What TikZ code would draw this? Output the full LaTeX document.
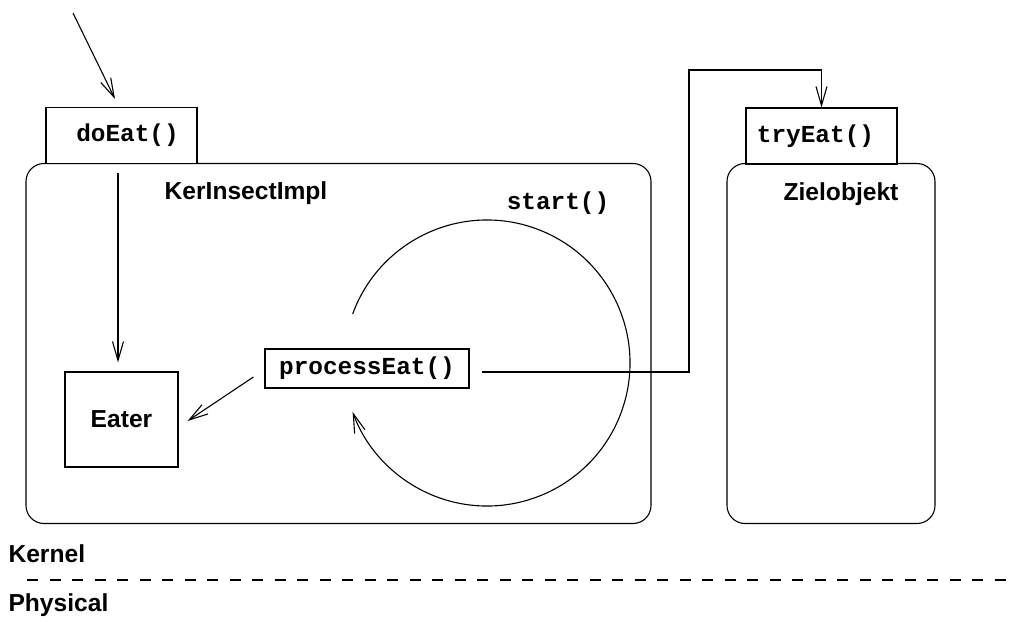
\documentclass[tikz,border=0pt]{standalone}
\usepackage{fontspec}
\setmainfont{Liberation Sans}
\setsansfont{Liberation Sans}
\setmonofont{Liberation Mono}
\usetikzlibrary{arrows.meta}
\begin{document}
\begin{tikzpicture}[x=0.5pt,y=-0.5pt,
  line width=0.55pt,
  tip/.style={-{Straight Barb[length=9.5pt,width=5.5pt]}},
  mbox/.style={draw,rectangle,inner sep=0pt,font=\fontsize{12.2}{14}\selectfont\ttfamily\bfseries},
  rbox/.style={draw,rectangle,rounded corners=9pt,inner sep=0pt},
  lbl/.style={inner sep=0pt,font=\fontsize{12.3}{14}\selectfont\sffamily\bfseries},
  mlbl/.style={inner sep=0pt,font=\fontsize{12.2}{14}\selectfont\ttfamily\bfseries}]
\useasboundingbox (0,0) rectangle (1014,622);
% containers
\node[rbox,minimum width=312.5pt,minimum height=180pt] (ker) at (338.5,343.5) {};
\node[rbox,minimum width=104pt,minimum height=180pt] (ziel) at (831,343.5) {};
% interface boxes
\node[mbox,minimum width=75.5pt,minimum height=28pt,fill=white] (doeat) at (121.5,135.5) {\kern6pt doEat()};
\node[mbox,minimum width=75.5pt,minimum height=28pt,fill=white] (tryeat) at (821.5,136) {tryEat()\kern6pt\relax};
\node[draw,rectangle,inner sep=0pt,minimum width=56.5pt,minimum height=47.5pt] (eater) at (121.5,419.5) {};
\node[lbl] at (eater.center) {Eater};
\node[mbox,minimum width=102pt,minimum height=19.5pt] (pe) at (367,368.5) {processEat()};
% labels
\node[lbl] (kname) at (246,193) {KerInsectImpl};
\node[lbl] (zname) at (841,194) {Zielobjekt};
\node[mlbl] (start) at (558,203) {start()};
\node[lbl,anchor=west] (kernel) at (8,554) {Kernel};
\node[lbl,anchor=west] (phys) at (8,605) {Physical};
% cycle
\draw[tip] ([shift={(-160:143)}]487,363) arc[start angle=-160,end angle=160,radius=143];
% connectors
\coordinate (src) at (73,13);
\coordinate (srctip) at (115,99);
\draw[tip] (src) -- (srctip);
\draw[tip,shorten <=4.5pt,shorten >=4.5pt] ([xshift=-1.75pt]doeat.south) -- ([xshift=-1.75pt]eater.north);
\draw[tip] ([xshift=-5.5pt,yshift=-4.25pt]pe.west) -- ([xshift=4.5pt,yshift=-0.75pt]eater.east);
\coordinate (c1) at (689,372);
\coordinate (c2) at (689,70);
\coordinate (c3) at (821.5,70);
\draw[tip] ([xshift=6pt,yshift=-1.75pt]pe.east) -- (c1) -- (c2) -- (c3) -- (tryeat.north);
% layer separator
\coordinate (dl) at (27,580);
\coordinate (dr) at (1014,580);
\draw[line width=0.9pt,dash pattern=on 5.5pt off 5.75pt] (dl) -- (dr);
\end{tikzpicture}
\end{document}
